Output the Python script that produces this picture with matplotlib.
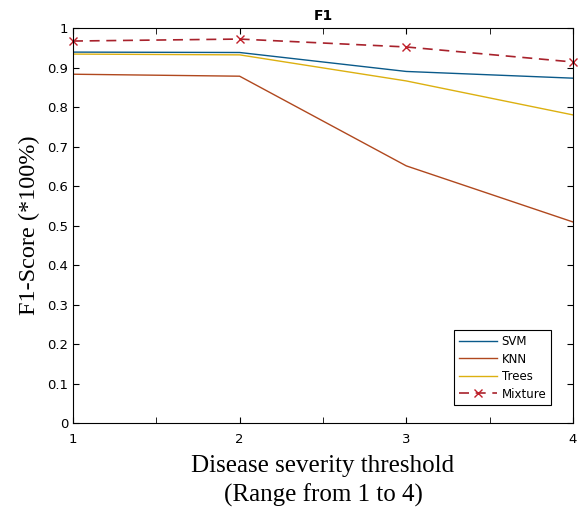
import matplotlib.pyplot as plt
import numpy as np
from matplotlib.ticker import MultipleLocator

# data
thresholds = [1, 2, 3, 4]
svm = [0.939, 0.938, 0.890, 0.873]
knn = [0.883, 0.878, 0.651, 0.509]
trees = [0.934, 0.932, 0.866, 0.780]
mixture = [0.967, 0.972, 0.952, 0.914]

fig = plt.figure(figsize=(5.81, 5.12), dpi=100)
ax = fig.add_axes([0.1256, 0.1738, 0.8605, 0.7715])

ax.plot(thresholds, svm, color="#0a5a8a", lw=1, label="SVM")
ax.plot(thresholds, knn, color="#b0481e", lw=1, label="KNN")
ax.plot(thresholds, trees, color="#dcb010", lw=1, label="Trees")
ax.plot(thresholds, mixture, color="#a8222c", lw=1.2, ls=(0, (6, 4)),
        marker="x", ms=6, mec="#c0202a", label="Mixture", clip_on=False)

ax.set_xlim(1, 4)
ax.set_ylim(0, 1)
ax.set_xticks(thresholds)
ax.xaxis.set_minor_locator(MultipleLocator(0.5))
ax.set_yticks(np.arange(0, 1.01, 0.1))
ax.set_yticklabels(["0", "0.1", "0.2", "0.3", "0.4", "0.5", "0.6", "0.7", "0.8", "0.9", "1"])
ax.tick_params(which="both", direction="in", top=True, right=True, labelsize=9.5)
ax.tick_params(which="major", length=4)
ax.tick_params(which="minor", length=4)
ax.tick_params(axis="x", pad=7)

ax.set_title("F1", fontsize=10, fontweight="bold", pad=6)
ax.set_ylabel("F1-Score (*100%)", family="Liberation Serif", fontsize=17.5, labelpad=5)
ax.set_xlabel("Disease severity threshold\n(Range from 1 to 4)",
              family="Liberation Serif", fontsize=18, linespacing=1.35, labelpad=7)

leg = ax.legend(loc="lower right", fontsize=8.5, fancybox=False, edgecolor="black",
                framealpha=1, borderpad=0.4, handlelength=3.2, labelspacing=0.38,
                handletextpad=0.4, bbox_to_anchor=(0.968, 0.03))
leg.get_frame().set_linewidth(0.8)

fig.savefig("out.png", dpi=100)
